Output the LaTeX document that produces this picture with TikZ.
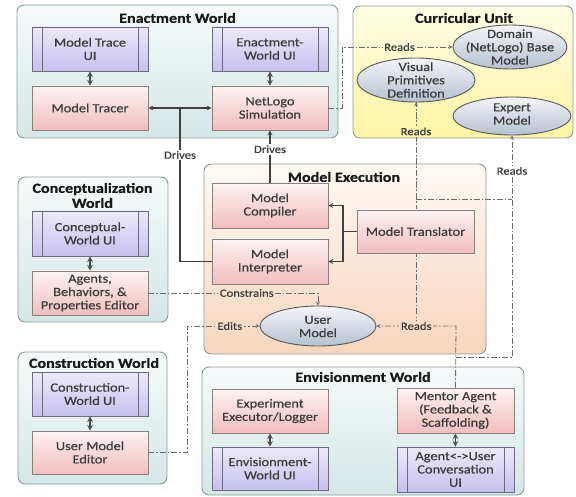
\documentclass[tikz,border=0pt]{standalone}
\usepackage{fontspec}
\setmainfont{Carlito}[FakeStretch=1.15, FakeBold=0.6]
\usepackage{tikz}
\usetikzlibrary{shapes.geometric}
\usepackage{xcolor}
\definecolor{framegray}{HTML}{8E9898}
\definecolor{boxgray}{HTML}{8A8080}
\definecolor{uigray}{HTML}{6E6A80}
\definecolor{txtgray}{HTML}{3C3C3C}
\definecolor{ddgray}{HTML}{6A6A6A}
\definecolor{tealtop}{HTML}{F6FAFA}
\definecolor{tealbot}{HTML}{D4E7E7}
\definecolor{curtop}{HTML}{FFFDE6}
\definecolor{curbot}{HTML}{FDF4A2}
\definecolor{exetop}{HTML}{FFF9F5}
\definecolor{exebot}{HTML}{F8D6BF}
\definecolor{pinktop}{HTML}{FDF2F2}
\definecolor{pinkbot}{HTML}{F2BDBF}
\definecolor{uitop}{HTML}{ECEAF9}
\definecolor{uibot}{HTML}{C6C0EF}
\definecolor{elltop}{HTML}{F4F5F8}
\definecolor{ellbot}{HTML}{B6C0D0}
\tikzset{
	world/.style n args={4}{
		draw=framegray, line width=0.9pt, rounded corners=7pt,
		top color=#3, bottom color=#4,
		minimum width=#1, minimum height=#2, inner sep=0pt
	},
	title/.style={font=\bfseries\fontsize{14}{15}\selectfont, text=black!90, align=center},
	pinkbox/.style={
		draw=boxgray, line width=0.8pt, top color=pinktop, bottom color=pinkbot,
		minimum width=116pt, minimum height=44pt, inner sep=0pt, align=center,
		font=\fontsize{12.5}{13.3}\selectfont, text=txtgray
	},
	uibox/.style={
		pinkbox, draw=uigray, top color=uitop, bottom color=uibot,
		path picture={
			\draw[uigray, line width=0.8pt]
			([xshift=10pt]path picture bounding box.north west) -- ([xshift=10pt]path picture bounding box.south west)
			([xshift=-10pt]path picture bounding box.north east) -- ([xshift=-10pt]path picture bounding box.south east);
		}
	},
	ellip/.style n args={2}{
		ellipse, draw=black!65, line width=0.9pt, top color=elltop, bottom color=ellbot,
		minimum width=#1, minimum height=#2, inner sep=0pt
	},
	etext/.style={font=\fontsize{12.5}{13.3}\selectfont, text=txtgray, align=center},
	dbl/.style={stealth-stealth, line width=1.5pt, draw=black!70},
	conn/.style={->, line width=1.1pt, draw=black!75},
	dd/.style={draw=ddgray, line width=0.8pt, dash pattern=on 6pt off 2pt on 1.5pt off 2pt},
	lbl/.style={font=\fontsize{11}{12}\selectfont, text=txtgray, inner sep=1.5pt, fill=#1},
	lbl/.default=white
}
\begin{document}
\begin{tikzpicture}[x=1pt, y=-1pt, >=stealth]
\useasboundingbox (0,0) rectangle (576,497);
\node[world={321pt}{133pt}{tealtop}{tealbot}] (enactW) at (177.5,71.5) {};
\node[world={220pt}{132pt}{curtop}{curbot}] (curricU) at (463,72) {};
\node[world={282pt}{190pt}{exetop}{exebot}] (modelExec) at (345,259) {};
\node[world={150pt}{145pt}{tealtop}{tealbot}] (conceptW) at (93,249.5) {};
\node[world={149pt}{132pt}{tealtop}{tealbot}] (constrW) at (92.5,418) {};
\node[world={322pt}{128pt}{tealtop}{tealbot}] (envisW) at (363,431) {};
\node[title] (enactT) at (177.5,18) {Enactment World};
\node[title] (curricT) at (464,18) {Curricular Unit};
\node[title] (execT) at (344,177) {Model Execution};
\node[title] (conceptT) at (92.5,195.5) {Conceptualization\\World};
\node[title] (constrT) at (94,363) {Construction World};
\node[title] (envisT) at (363,377) {Envisionment World};
\node[ellip={114pt}{44pt}] (domain) at (510,47) {};
\node[etext] at (510,47) {Domain\\(NetLogo) Base\\Model};
\node[ellip={118pt}{44pt}] (visprim) at (416,80) {};
\node[etext] at (416,80) {Visual\\Primitives\\Definition};
\node[ellip={118pt}{38pt}] (expert) at (512,116) {};
\node[etext] at (512,114) {Expert\\Model};
\node[ellip={116pt}{40pt}] (usermodel) at (318,326) {};
\node[etext] at (318,326.5) {User\\Model};
\coordinate (vpfoot) at (416,326);
\coordinate (vpcross) at (416,199);
\coordinate (excross) at (512,199);
\draw[dd] (vpfoot) -- (visprim.south);
\draw[dd, ->] (vpcross) -- (visprim.south) node[pos=0.7, lbl=curbot!85!curtop] {Reads};
\draw[dd] (vpcross) -- (excross);
\node[uibox] (traceUI) at (90,49) {Model Trace\\UI};
\node[uibox] (enactUI) at (270,49) {Enactment-\\World UI};
\node[pinkbox] (tracer) at (90,108) {Model Tracer};
\node[pinkbox] (netlogo) at (270,108) {NetLogo\\Simulation};
\node[uibox, minimum height=45pt] (concUI) at (90,233.5) {Conceptual-\\World UI};
\node[pinkbox] (abpEditor) at (90,293) {Agents,\\Behaviors, \&\\Properties Editor};
\node[uibox] (constrUI) at (90,394) {Construction-\\World UI};
\node[pinkbox, minimum height=43pt] (umEditor) at (90,452.5) {User Model\\Editor};
\node[pinkbox, minimum height=45pt] (compiler) at (270,205.5) {Model\\Compiler};
\node[pinkbox, minimum height=45pt] (interp) at (270,261.5) {Model\\Interpreter};
\node[pinkbox, minimum width=117pt, minimum height=43pt] (translator) at (415.5,231.5) {Model Translator};
\node[pinkbox] (expExec) at (270,411) {Experiment\\Executor/Logger};
\node[uibox, minimum height=43pt] (envisUI) at (270,468.5) {Envisionment-\\World UI};
\node[pinkbox, minimum width=117pt, minimum height=45pt] (mentor) at (455.5,410.5) {Mentor Agent\\(Feedback \&\\Scaffolding)};
\node[uibox, minimum width=117pt, minimum height=45pt] (convUI) at (455.5,469.5) {Agent<->User\\Conversation\\UI};
\draw[dbl] (traceUI) -- (tracer);
\draw[dbl] (enactUI) -- (netlogo);
\draw[dbl] (concUI) -- (abpEditor);
\draw[dbl] (constrUI) -- (umEditor);
\draw[dbl] (expExec) -- (envisUI);
\draw[dbl] (mentor) -- (convUI);
\coordinate (drvknee) at (180,108);
\draw[conn, -] (interp.west) -| (drvknee);
\draw[conn] (drvknee) -- (tracer.east);
\draw[conn] (drvknee) -- (netlogo.west);
\node[lbl] (drivesA) at (180,155) {Drives};
\draw[conn] (compiler.north) -- (netlogo.south) node[pos=0.64, lbl] {Drives};
\coordinate (trknee) at (343,231.5);
\draw[conn, -] (translator.west) -- (trknee);
\draw[conn] (trknee) |- (compiler.east);
\draw[conn] (trknee) |- (interp.east);
\coordinate (rdknee) at (342,47);
\draw[dd, ->] (netlogo.east) -| (rdknee) -- (domain.west) node[pos=0.52, lbl=curtop!75!curbot] {Reads};
\coordinate (mtknee) at (456,326);
\coordinate (mtbend) at (456,357);
\coordinate (exbend) at (512,357);
\draw[dd, ->] (mentor.north) -- (mtknee) -- (usermodel.east) node[pos=0.5, lbl=exebot!85!exetop] {Reads};
\draw[dd, ->] (mtbend) -- (exbend) -- (expert.south) node[pos=0.84, lbl] {Reads};
\coordinate (cnknee) at (318,293);
\draw[dd, ->] (abpEditor.east) -- node[pos=0.58, lbl=exebot!68!exetop] {Constrains} (cnknee) -- (usermodel.north);
\coordinate (edfoot) at (187,452.5);
\coordinate (edtop) at (187,326);
\draw[dd, ->] (umEditor.east) -- (edfoot) -- (edtop) -- node[pos=0.59, lbl=exebot!85!exetop] {Edits} (usermodel.west);
\end{tikzpicture}
\end{document}
